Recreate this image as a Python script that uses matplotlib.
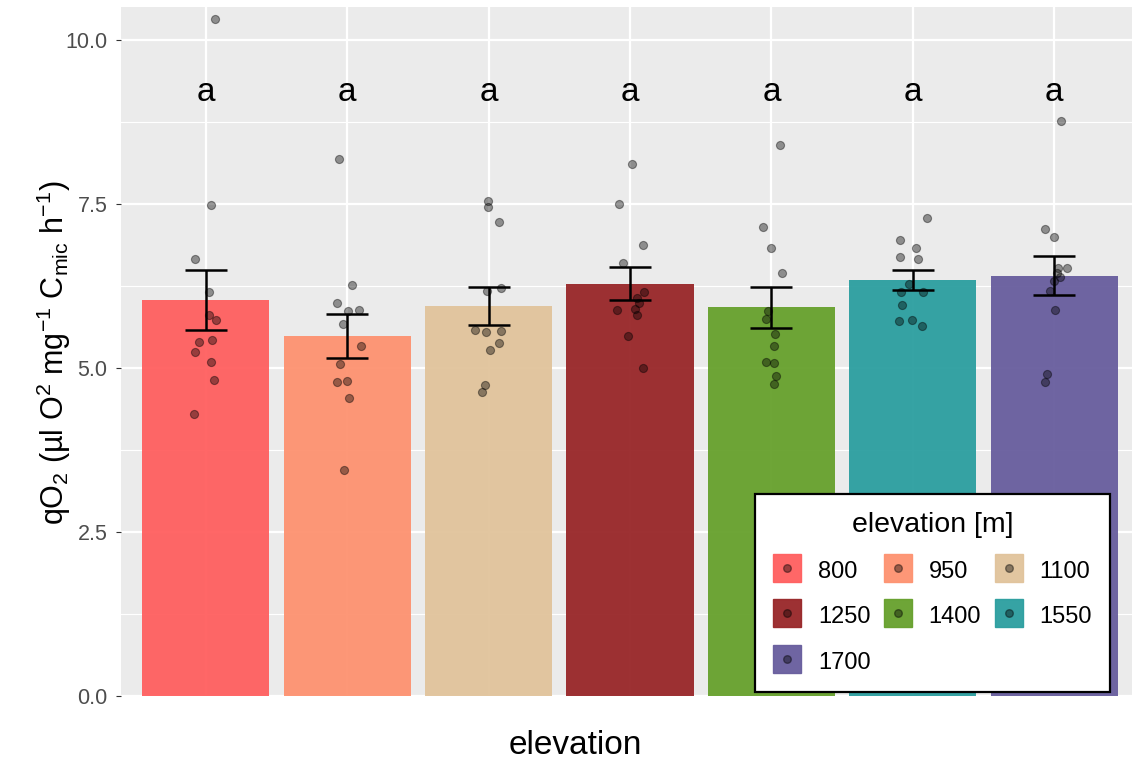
import matplotlib
matplotlib.use("Agg")
import matplotlib.pyplot as plt
import numpy as np
from matplotlib.lines import Line2D

plt.rcParams['font.family'] = ['Liberation Sans', 'DejaVu Sans']
plt.rcParams['mathtext.default'] = 'regular'

# data
elevations = ['800', '950', '1100', '1250', '1400', '1550', '1700']
bar_colors = ['#FF5F5F', '#FD9270', '#E1C39B', '#982628', '#66A02C', '#2B9E9F', '#675D9D']
qo2 = [
    [10.32, 7.48, 6.66, 6.15, 5.81, 5.73, 5.40, 5.42, 5.24, 5.09, 4.81, 4.30],
    [8.19, 6.26, 5.99, 5.87, 5.88, 5.67, 5.34, 5.06, 4.78, 4.80, 4.54, 3.44],
    [7.55, 7.45, 7.23, 6.22, 6.17, 5.58, 5.55, 5.57, 5.38, 5.28, 4.74, 4.64],
    [8.11, 7.50, 6.88, 6.60, 6.15, 6.06, 5.99, 5.89, 5.90, 5.81, 5.49, 5.00],
    [8.40, 7.14, 6.83, 6.45, 5.87, 5.75, 5.51, 5.33, 5.09, 5.07, 4.88, 4.76],
    [7.29, 6.95, 6.82, 6.69, 6.66, 6.28, 6.15, 6.15, 5.96, 5.72, 5.73, 5.64],
    [8.76, 7.12, 7.00, 6.53, 6.53, 6.39, 6.32, 6.17, 5.88, 4.90, 4.78, 6.45],
]
# horizontal jitter of each point (as seen in the picture)
jitter_x = [
    [0.066, 0.040, -0.074, 0.025, 0.023, 0.075, -0.050, 0.045, -0.076, 0.040, 0.059, -0.085],
    [-0.057, 0.031, -0.071, 0.003, 0.081, -0.033, 0.097, -0.052, -0.075, -0.004, 0.014, -0.023],
    [-0.005, -0.002, 0.076, 0.090, -0.009, -0.099, -0.019, 0.087, 0.073, 0.012, -0.026, -0.050],
    [0.014, -0.080, 0.094, -0.047, 0.099, 0.050, 0.066, -0.090, 0.038, 0.052, -0.014, 0.090],
    [0.062, -0.059, -0.005, 0.076, -0.026, -0.038, 0.028, 0.016, -0.040, 0.016, 0.033, 0.016],
    [0.101, -0.092, 0.023, -0.087, 0.040, -0.026, -0.083, 0.073, -0.076, -0.097, -0.002, 0.066],
    [0.050, -0.064, -0.002, 0.088, 0.028, 0.040, 0.000, -0.030, 0.003, -0.050, -0.064, 0.019],
]
letters = ['a', 'a', 'a', 'a', 'a', 'a', 'a']
letter_y = 9.06

# mean and standard error per group
means = [np.mean(v) for v in qo2]
ses = [np.std(v, ddof=1) / np.sqrt(len(v)) for v in qo2]

fig = plt.figure(figsize=(11.32, 7.6), dpi=100)
ax = fig.add_axes([121 / 1132, 64 / 760, 1018 / 1132, 689 / 760])
ax.set_facecolor('#EBEBEB')

xs = np.arange(1, len(elevations) + 1)
ax.bar(xs, means, width=0.9, color=bar_colors, alpha=0.95, zorder=2)
ax.errorbar(xs, means, yerr=ses, fmt='none', ecolor='black', elinewidth=1.8,
            capsize=15, capthick=1.8, zorder=3)
for i in range(len(elevations)):
    ax.scatter(xs[i] + np.array(jitter_x[i]), qo2[i], s=34, facecolor=(0, 0, 0, 0.4),
               edgecolor=(0, 0, 0, 0.4), linewidth=0.8, zorder=4)
    ax.text(xs[i], letter_y, letters[i], ha='center', va='baseline', fontsize=24, zorder=5)

ax.set_xlim(0.4, 7.6)
ax.set_ylim(0, 10.5)
ax.set_yticks([0, 2.5, 5, 7.5, 10])
ax.set_yticklabels(['0.0', '2.5', '5.0', '7.5', '10.0'])
ax.set_yticks([1.25, 3.75, 6.25, 8.75], minor=True)
ax.set_xticks(xs)
ax.tick_params(axis='x', length=0, labelbottom=False)
ax.tick_params(axis='y', which='major', length=3.7, width=0.8, color='#333333',
               labelcolor='#4D4D4D', labelsize=15.5, pad=6)
ax.tick_params(axis='y', which='minor', length=0)
ax.grid(which='major', color='white', linewidth=1.6, zorder=0)
ax.grid(which='minor', axis='y', color='white', linewidth=0.8, zorder=0)
ax.set_axisbelow(True)
for s in ax.spines.values():
    s.set_visible(False)

fig.text(54 / 1132, 1 - 353 / 760,
         r'qO$_2$ (µl O$^2$ mg$^{-1}$ C$_{mic}$ h$^{-1}$)',
         rotation=90, ha='center', va='center', fontsize=22)
fig.text(575.5 / 1132, 6 / 760, 'elevation', ha='center', va='baseline', fontsize=24)

# legend filled row by row: 800 950 1100 / 1250 1400 1550 / 1700
order = [0, 3, 6, 1, 4, 2, 5]
handles = []
labels = []
for k in order:
    c = bar_colors[k]
    sq = Line2D([], [], marker='s', markersize=19.5, linestyle='', markerfacecolor=c,
                markeredgecolor=c, alpha=0.95)
    dot = Line2D([], [], marker='o', markersize=5.5, linestyle='',
                 markerfacecolor=(0, 0, 0, 0.4), markeredgecolor=(0, 0, 0, 0.4))
    handles.append((sq, dot))
    labels.append(elevations[k])
leg = fig.legend(handles, labels, ncol=3, title='elevation [m]',
                 loc='lower right', bbox_to_anchor=(1110 / 1132, 68 / 760),
                 borderaxespad=0, fontsize=17, title_fontsize=20.5, frameon=True,
                 fancybox=False, framealpha=1, handlelength=1.14, handleheight=1.2,
                 handletextpad=0.72, columnspacing=0.6, labelspacing=0.85,
                 borderpad=0.78)
leg.get_frame().set_edgecolor('black')
leg.get_frame().set_linewidth(1.6)
leg.set_zorder(10)

fig.savefig('out.png', dpi=100)
